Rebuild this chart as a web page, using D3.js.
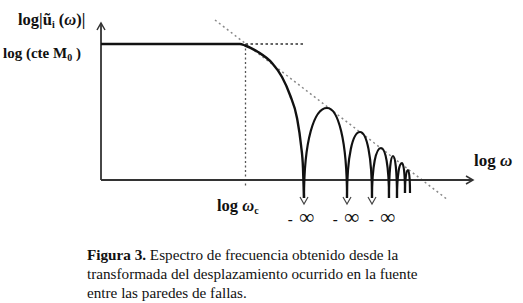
<!DOCTYPE html>
<html>
<head>
<meta charset="utf-8">
<script src="https://cdn.jsdelivr.net/npm/d3@7"></script>
<style>
  html, body { margin: 0; padding: 0; background: #fff; }
  svg { display: block; }
  .lbl { font-family: "Liberation Serif", "Times New Roman", serif; font-weight: bold; fill: #111; }
  .cap { font-family: "Liberation Serif", "Times New Roman", serif; fill: #111; font-size: 15.2px; }
</style>
</head>
<body>
<svg id="chart" width="523" height="303"></svg>
<script>
// ---- data (in log-frequency / log-amplitude units) ----
const flatLevel = 1.36;                // log(cte M0)
const cornerX = 1.445;                 // log ωc
const mainLobeX = [0.00, 1.39, 1.44, 1.57, 1.71, 1.81, 1.89, 1.96, 2.00, 2.02, 2.03];
const mainLobeY = [1.36, 1.36, 1.345, 1.28, 1.17, 1.03, 0.85, 0.62, 0.35, 0.12, -0.18];
const zerosX    = [2.03, 2.46, 2.71, 2.88, 2.96, 3.04, 3.09];
const zerosLow  = [-0.18, -0.18, -0.18, -0.18, -0.18, -0.13, -0.13];
const peaksX    = [2.26, 2.59, 2.80, 2.92, 3.01, 3.07];
const peaksY    = [0.72, 0.48, 0.32, 0.24, 0.17, 0.10];
const arrowZeros = [0, 1, 2];
const asymptoteX = [1.14, 3.47];
const asymptoteY = [1.60, -0.20];
const infOffsets = [-0.03, -0.01, 0.10];
const captionBold = "Figura 3.";
const captionLines = [
  " Espectro de frecuencia obtenido desde la",
  "transformada del desplazamiento ocurrido en la fuente",
  "entre las paredes de fallas."
];

// ---- scales ----
const svg = d3.select("#chart");
const x = d3.scaleLinear().domain([0, 3.72]).range([101, 473]);
const y = d3.scaleLinear().domain([0, 1.6]).range([180, 20]);

const ink = "#111";
const axisCol = "#333";

// ---- dotted guides ----
svg.append("line")
  .attr("x1", x(asymptoteX[0])).attr("y1", y(asymptoteY[0]))
  .attr("x2", x(asymptoteX[1])).attr("y2", y(asymptoteY[1]))
  .attr("stroke", "#888").attr("stroke-width", 1.5).attr("stroke-dasharray", "2,3");
svg.append("line")
  .attr("x1", x(cornerX)).attr("y1", y(flatLevel))
  .attr("x2", x(2.04)).attr("y2", y(flatLevel))
  .attr("stroke", "#333").attr("stroke-width", 1.4).attr("stroke-dasharray", "2.5,2.5");
svg.append("line")
  .attr("x1", x(cornerX)).attr("y1", y(flatLevel))
  .attr("x2", x(cornerX)).attr("y2", y(-0.08))
  .attr("stroke", "#555").attr("stroke-width", 1.3).attr("stroke-dasharray", "2,2.5");

// ---- axes ----
svg.append("line")
  .attr("x1", x(0)).attr("y1", y(0)).attr("x2", x(3.72)).attr("y2", y(0))
  .attr("stroke", axisCol).attr("stroke-width", 1.8);
svg.append("line")
  .attr("x1", x(0)).attr("y1", y(0)).attr("x2", x(0)).attr("y2", y(1.57))
  .attr("stroke", axisCol).attr("stroke-width", 1.8);
// arrowheads
svg.append("path")
  .attr("d", `M${x(3.72)-7},${y(0)-4} L${x(3.72)},${y(0)} L${x(3.72)-7},${y(0)+4}`)
  .attr("fill", "none").attr("stroke", axisCol).attr("stroke-width", 1.5);
svg.append("path")
  .attr("d", `M${x(0)-4},${y(1.57)+7} L${x(0)},${y(1.57)} L${x(0)+4},${y(1.57)+7}`)
  .attr("fill", "none").attr("stroke", axisCol).attr("stroke-width", 1.5);

// ---- main lobe ----
const line = d3.line().x(d => x(d[0])).y(d => y(d[1])).curve(d3.curveMonotoneX);
svg.append("path")
  .attr("d", line(d3.zip(mainLobeX, mainLobeY)))
  .attr("fill", "none").attr("stroke", ink).attr("stroke-width", 2.4);

// ---- side lobes ----
peaksX.forEach((px, i) => {
  const x0 = x(zerosX[i]), y0 = y(zerosLow[i]);
  const x1 = x(zerosX[i + 1]), y1 = y(zerosLow[i + 1]);
  const xp = x(px), yp = y(peaksY[i]);
  const p = d3.path();
  p.moveTo(x0, y0);
  p.bezierCurveTo(x0, yp + (y0 - yp) * 0.35, x0 + (xp - x0) * 0.45, yp, xp, yp);
  p.bezierCurveTo(x1 - (x1 - xp) * 0.45, yp, x1, yp + (y1 - yp) * 0.35, x1, y1);
  svg.append("path").attr("d", p.toString())
    .attr("fill", "none").attr("stroke", ink).attr("stroke-width", 2.2);
});

// ---- arrows to -inf ----
arrowZeros.forEach((k, j) => {
  const zx = x(zerosX[k]), zy = y(zerosLow[k]);
  svg.append("path")
    .attr("d", `M${zx-4},${zy-1} L${zx},${zy+6} L${zx+4},${zy-1}`)
    .attr("fill", "none").attr("stroke", "#444").attr("stroke-width", 1.2);
  const t = svg.append("text").attr("class", "lbl")
    .attr("x", x(zerosX[k] + infOffsets[j])).attr("y", 224)
    .attr("text-anchor", "middle");
  t.append("tspan").attr("font-size", 15).text("-\u2009 ");
  t.append("tspan").attr("font-size", 21).text("\u221E");
});

// ---- labels ----
const yl = svg.append("text").attr("class", "lbl").attr("x", 18).attr("y", 25).attr("font-size", 16.5);
yl.append("tspan").text("log|\u0169");
yl.append("tspan").attr("font-size", 10).attr("dy", 3).text("i");
yl.append("tspan").attr("dy", -3).text(" (");
yl.append("tspan").attr("font-style", "italic").text("\u03C9");
yl.append("tspan").text(")|");

const ml = svg.append("text").attr("class", "lbl").attr("x", 3).attr("y", 58).attr("font-size", 15);
ml.append("tspan").text("log (cte M");
ml.append("tspan").attr("font-size", 10).attr("dy", 3).text("0");
ml.append("tspan").attr("dy", -3).text(" )");

const wc = svg.append("text").attr("class", "lbl").attr("x", 217).attr("y", 211).attr("font-size", 16.5);
wc.append("tspan").text("log ");
wc.append("tspan").attr("font-style", "italic").text("\u03C9");
wc.append("tspan").attr("font-size", 10).attr("dy", 3).text("c");

const wl = svg.append("text").attr("class", "lbl").attr("x", 474).attr("y", 166).attr("font-size", 17);
wl.append("tspan").text("log ");
wl.append("tspan").attr("font-style", "italic").text("\u03C9");

// ---- caption ----
const c1 = svg.append("text").attr("class", "cap").attr("x", 87).attr("y", 260);
c1.append("tspan").attr("font-weight", "bold").text(captionBold);
c1.append("tspan").text(captionLines[0]);
captionLines.slice(1).forEach((t, i) => {
  svg.append("text").attr("class", "cap").attr("x", 87).attr("y", 279 + i * 18.5).text(t);
});
</script>
</body>
</html>
